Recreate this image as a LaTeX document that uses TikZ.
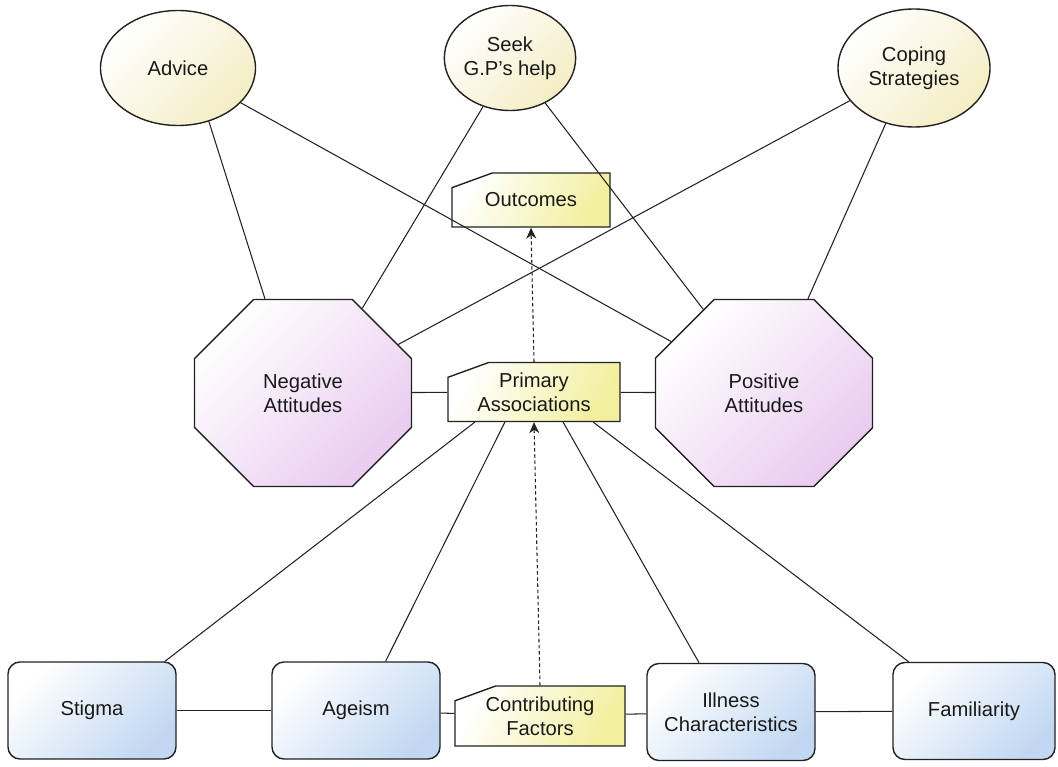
\documentclass[tikz,border=0pt]{standalone}
\usepackage{fontspec}
\setmainfont{Liberation Sans}
\usetikzlibrary{shapes.geometric, shapes.misc, arrows.meta, positioning}
\definecolor{lineDark}{HTML}{222222}
\definecolor{ovalYellow}{HTML}{F4EDC4}
\definecolor{tagYellow}{HTML}{F2EF9E}
\definecolor{octPink}{HTML}{E9CBEF}
\definecolor{boxBlue}{HTML}{C2D8F2}

\begin{document}
\begin{tikzpicture}[
    x=0.2mm, y=-0.2mm,
    every node/.style={font=\fontsize{11.5}{13.5}\selectfont, align=center, text=black!90},
    oval/.style={ellipse, draw=lineDark, line width=0.8pt, inner sep=0pt,
                 top color=white, bottom color=ovalYellow, shading angle=45},
    tag/.style={chamfered rectangle, chamfered rectangle corners=north west,
                chamfered rectangle angle=70, chamfered rectangle xsep=4mm, chamfered rectangle ysep=1.5mm,
                draw=lineDark, line width=0.8pt, inner sep=0pt,
                top color=white, bottom color=tagYellow, shading angle=60},
    octa/.style={chamfered rectangle, chamfered rectangle xsep=12.7mm, chamfered rectangle ysep=11mm,
                 draw=lineDark, line width=0.8pt, inner sep=0pt,
                 minimum width=43.4mm, minimum height=37.4mm,
                 top color=white, bottom color=octPink, shading angle=45},
    factor/.style={rectangle, rounded corners=2.4mm, draw=lineDark, line width=0.8pt,
                   minimum width=33.6mm, minimum height=19.4mm,
                   top color=white, bottom color=boxBlue, shading angle=45},
    link/.style={lineDark, line width=0.6pt},
    leads/.style={-{Stealth[length=2.2mm, width=2mm]}, lineDark, line width=0.6pt,
                  dash pattern=on 2pt off 1.5pt}
  ]
    \useasboundingbox (0,0) rectangle (1058,766);

    \node[oval, minimum width=31mm, minimum height=23mm] (advice) at (178,68) {Advice};
    \node[oval, minimum width=26mm, minimum height=21mm] (seek) at (510,58) {Seek\\G.P's help};
    \node[oval, minimum width=30.4mm, minimum height=23.6mm] (coping) at (914,68) {Coping\\Strategies};

    \node[tag, minimum width=31.6mm, minimum height=10.8mm] (outcomes) at (531,200) {Outcomes};
    \node[tag, minimum width=34.4mm, minimum height=11.8mm] (primary) at (534,392) {Primary\\Associations};
    \node[tag, minimum width=34mm, minimum height=12mm] (contrib) at (540,716) {Contributing\\Factors};

    \node[octa] (negative) at (303,393) {Negative\\Attitudes};
    \node[octa] (positive) at (764,393) {Positive\\Attitudes};

    \node[factor] (stigma) at (92,710.5) {Stigma};
    \node[factor] (ageism) at (356,710.5) {Ageism};
    \node[factor] (illness) at (731,712) {Illness\\Characteristics};
    \node[factor, minimum width=32.4mm] (familiar) at (974,711) {Familiarity};

    \draw[link] (advice.-60) -- (negative.112);
    \draw[link] (advice.-29) -- (positive.151);
    \draw[link] (seek.-119) -- (negative.55);
    \draw[link] (seek.-52) -- (positive.126);
    \draw[link] (coping.-153) -- (negative.27);
    \draw[link] (coping.-117) -- (positive.65);

    \draw[link] (negative) -- (primary);
    \draw[link] (primary) -- (positive);

    \draw[link] (primary.-153) -- (stigma.34);
    \draw[link] (primary.-134) -- (ageism.59);
    \draw[link] (primary.-46) -- (illness.123);
    \draw[link] (primary.-27) -- (familiar.143);

    \draw[link] (stigma) -- (ageism);
    \draw[link] (ageism) -- (contrib);
    \draw[link] (contrib) -- (illness);
    \draw[link] (illness) -- (familiar);

    \draw[leads] (contrib.north) -- (primary.south);
    \draw[leads] (primary.north) -- (outcomes.south);
  \end{tikzpicture}
\end{document}
